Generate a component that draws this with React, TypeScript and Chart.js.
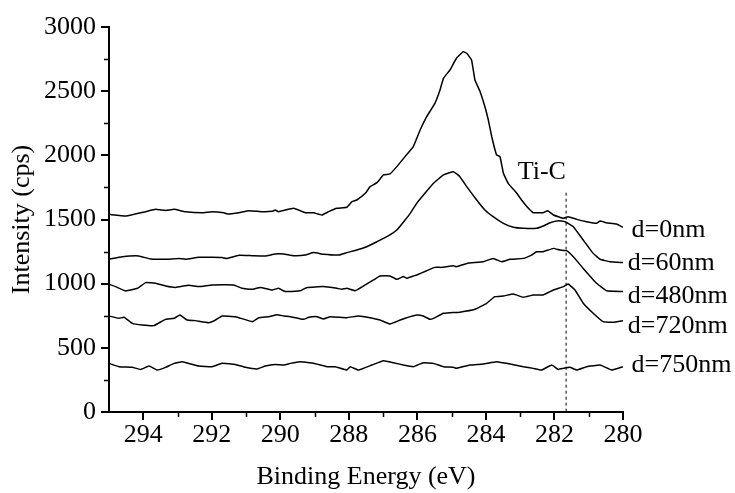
import React, { useEffect, useRef } from 'react';
import { Chart, registerables } from 'chart.js';

Chart.register(...registerables);

const FONT = '"Liberation Serif", "Times New Roman", Times, serif';

// ---- data (binding energy in eV, intensity in cps) ----
const energyD0 = [295, 294.5, 293.93, 293.64, 293.35, 293.1, 292.77, 292.28, 291.99, 291.65, 291.55, 291.21, 290.92, 290.53, 290.24, 290.15, 290.05,
  289.61, 289.27, 289.03, 288.79, 288.59, 288.35, 288.06, 287.91, 287.77, 287.52, 287.38, 287.18, 286.99, 286.8, 286.6, 286.36, 286.12, 285.92, 285.73, 285.49, 285.34, 285.24, 285.05,
  284.86, 284.66, 284.56, 284.42, 284.32, 284.17, 284.03, 283.93, 283.83, 283.69, 283.59, 283.49, 283.35, 283.1, 282.96, 282.76, 282.62, 282.33, 282.2, 282.03, 281.74, 281.6, 281.35, 281.06, 280.77, 280.67, 280.48, 280.19, 280.0];
const intensityD0 = [1540, 1527, 1561, 1579, 1571, 1579, 1561, 1553, 1561, 1553, 1543, 1553, 1569, 1561, 1564, 1574, 1561,
  1587, 1553, 1553, 1535, 1561, 1587, 1595, 1639, 1652, 1704, 1756, 1787, 1847, 1855, 1912, 1990, 2068, 2197, 2301, 2405, 2509, 2600, 2665,
  2756, 2808, 2795, 2743, 2587, 2496, 2379, 2275, 2145, 2003, 1990, 1860, 1782, 1704, 1652, 1587, 1553, 1553, 1569, 1535, 1509, 1522, 1501, 1483, 1470, 1488, 1475, 1465, 1439];

const energyD60 = [295, 294.61, 294.13, 293.79, 293.35, 292.96, 292.77, 292.38, 291.99, 291.7, 291.55, 291.21, 290.82, 290.44, 290.15, 289.9,
  289.61, 289.27, 289.03, 288.74, 288.3, 288.06, 287.77, 287.48, 287.18, 286.89, 286.6, 286.36, 286.21, 286.02, 285.78, 285.53, 285.24, 284.95,
  284.76, 284.56, 284.27, 284.03, 283.79, 283.49, 283.2, 282.91, 282.52, 282.33, 282.13, 281.89, 281.69, 281.45, 281.16, 280.87, 280.67, 280.38, 280.0];
const intensityD60 = [1192, 1210, 1216, 1192, 1190, 1197, 1190, 1205, 1205, 1203, 1197, 1221, 1218, 1216, 1231, 1231,
  1218, 1223, 1242, 1229, 1223, 1242, 1262, 1288, 1327, 1366, 1418, 1496, 1548, 1626, 1704, 1782, 1847, 1873,
  1834, 1756, 1652, 1574, 1522, 1470, 1439, 1431, 1431, 1449, 1475, 1491, 1483, 1444, 1340, 1236, 1190, 1171, 1164];

const energyD480 = [295, 294.81, 294.51, 294.17, 293.93, 293.64, 293.35, 293.06, 292.67, 292.38, 291.99, 291.36, 291.12, 290.83, 290.58, 290.24, 290.05, 289.9,
  289.81, 289.42, 289.22, 288.74, 288.35, 288.2, 288.06, 287.82, 287.57, 287.28, 287.09, 286.8, 286.6, 286.41, 286.31, 286.12, 286.02, 285.73, 285.49, 285.29, 284.95,
  284.86, 284.56, 284.08, 283.79, 283.54, 283.3, 282.91, 282.67, 282.52, 282.33, 282.03, 281.84, 281.65, 281.45, 281.16, 280.77, 280.48, 280.0];
const intensityD480 = [995, 977, 943, 964, 1008, 1003, 982, 971, 987, 977, 990, 990, 964, 956, 971, 951, 964, 943,
  938, 945, 971, 977, 964, 956, 964, 945, 982, 1029, 1060, 1060, 1034, 1055, 1042, 1060, 1068, 1101, 1127, 1127, 1140,
  1132, 1158, 1171, 1197, 1171, 1190, 1197, 1223, 1249, 1249, 1275, 1262, 1257, 1210, 1119, 1003, 945, 938];

const energyD720 = [295, 294.71, 294.56, 294.32, 294.03, 293.69, 293.35, 293.1, 292.93, 292.72, 292.48, 292.09, 291.89, 291.7, 291.31, 290.82, 290.63, 290.34, 290.1, 289.9,
  289.71, 289.32, 289.17, 288.93, 288.74, 288.54, 288.06, 287.72, 287.38, 287.09, 286.8, 286.5, 286.21, 286.02, 285.83, 285.63, 285.53, 285.24, 285.05, 284.76,
  284.32, 283.98, 283.74, 283.49, 283.2, 282.91, 282.62, 282.33, 282.03, 281.74, 281.6, 281.4, 281.16, 280.87, 280.58, 280.28, 280.0];
const intensityD720 = [748, 730, 738, 691, 678, 673, 722, 730, 756, 717, 712, 696, 717, 748, 743, 704, 735, 743, 758, 748,
  743, 722, 738, 743, 725, 743, 735, 748, 735, 717, 686, 717, 743, 756, 748, 722, 730, 769, 774, 778,
  800, 847, 899, 904, 919, 894, 912, 912, 951, 977, 997, 951, 847, 769, 704, 699, 712];

const energyD750 = [295, 294.71, 294.32, 294.08, 293.83, 293.59, 293.35, 293.1, 292.86, 292.62, 292.38, 291.99, 291.7, 291.31, 291.02, 290.68, 290.44, 290.15, 289.9,
  289.71, 289.42, 289.03, 288.64, 288.4, 288.06, 287.96, 287.72, 287.33, 286.99, 286.7, 286.41, 286.12, 285.83, 285.53, 285.24, 284.95,
  284.86, 284.47, 284.08, 283.69, 283.4, 282.91, 282.62, 282.38, 282.08, 281.89, 281.74, 281.55, 281.35, 281.06, 280.67, 280.33, 280.0];
const intensityD750 = [379, 353, 348, 332, 358, 327, 348, 379, 392, 374, 358, 353, 379, 371, 348, 335, 358, 371, 366,
  379, 392, 379, 353, 353, 327, 353, 327, 366, 400, 384, 366, 353, 384, 379, 353, 348,
  340, 366, 374, 392, 379, 353, 340, 327, 366, 332, 340, 348, 327, 353, 366, 327, 353];

const seriesNames = ['d=0nm', 'd=60nm', 'd=480nm', 'd=720nm', 'd=750nm'];
const seriesEnergies = [energyD0, energyD60, energyD480, energyD720, energyD750];
const seriesIntensities = [intensityD0, intensityD60, intensityD480, intensityD720, intensityD750];

// series name labels, anchored in data coordinates (left edge, vertical middle)
const nameLabelEnergy = [279.75, 279.86, 279.86, 279.86, 279.75];
const nameLabelIntensity = [1413, 1162, 902, 669, 365];

// Ti-C marker
const tiCEnergy = 281.66;
const tiCLineTop = 1709;
const tiCText = 'Ti-C';
const tiCTextEnergy = 282.37;
const tiCTextIntensity = 1871;

const xMinorTicks = [281, 283, 285, 287, 289, 291, 293];
const yMinorTicks = [250, 750, 1250, 1750, 2250, 2750];

const xTitle = 'Binding Energy (eV)';
const yTitle = 'Intensity (cps)';

const extrasPlugin = {
  id: 'extras',
  afterDraw(chart: any) {
    const { ctx, scales } = chart;
    const xs = scales.x;
    const ys = scales.y;
    const area = chart.chartArea;
    ctx.save();
    // minor ticks
    ctx.strokeStyle = '#000';
    ctx.lineWidth = 1.5;
    ctx.beginPath();
    xMinorTicks.forEach((v) => {
      const px = Math.round(xs.getPixelForValue(v)) + 0.5;
      ctx.moveTo(px, area.bottom);
      ctx.lineTo(px, area.bottom + 5);
    });
    yMinorTicks.forEach((v) => {
      const py = Math.round(ys.getPixelForValue(v)) + 0.5;
      ctx.moveTo(area.left, py);
      ctx.lineTo(area.left - 5, py);
    });
    ctx.stroke();
    // texts
    ctx.fillStyle = '#000';
    ctx.font = `26px ${FONT}`;
    ctx.textBaseline = 'middle';
    ctx.textAlign = 'center';
    ctx.fillText(tiCText, xs.getPixelForValue(tiCTextEnergy), ys.getPixelForValue(tiCTextIntensity));
    ctx.textAlign = 'left';
    seriesNames.forEach((name, i) => {
      ctx.fillText(name, xs.getPixelForValue(nameLabelEnergy[i]), ys.getPixelForValue(nameLabelIntensity[i]));
    });
    ctx.restore();
  },
};

export default function App() {
  const canvasRef = useRef<HTMLCanvasElement | null>(null);

  useEffect(() => {
    if (!canvasRef.current) return;
    const datasets: any[] = seriesNames.map((name, i) => ({
      label: name,
      data: seriesEnergies[i].map((e, j) => ({ x: e, y: seriesIntensities[i][j] })),
      borderColor: '#000',
      borderWidth: 1.5,
      pointRadius: 0,
      tension: 0.1,
      fill: false,
    }));
    datasets.push({
      label: 'Ti-C',
      data: [{ x: tiCEnergy, y: tiCLineTop }, { x: tiCEnergy, y: 0 }],
      borderColor: '#000',
      borderWidth: 1,
      borderDash: [3, 3],
      pointRadius: 0,
      fill: false,
    });

    const chart = new Chart(canvasRef.current, {
      type: 'line',
      data: { datasets },
      plugins: [extrasPlugin],
      options: {
        animation: false,
        responsive: false,
        devicePixelRatio: 1,
        layout: { padding: { left: 0, top: 27, right: 112, bottom: 0 } },
        plugins: { legend: { display: false }, tooltip: { enabled: false } },
        scales: {
          x: {
            type: 'linear',
            reverse: true,
            min: 280,
            max: 295,
            afterFit: (s: any) => { s.height = 81; },
            border: { display: true, color: '#000', width: 2 },
            grid: { drawOnChartArea: false, drawTicks: true, tickLength: 8, color: '#000', lineWidth: 2 },
            ticks: { stepSize: 2, includeBounds: false, padding: 0, color: '#000', font: { family: FONT, size: 26 }, maxRotation: 0, callback: (v: any) => String(v) },
            title: { display: true, text: xTitle, color: '#000', font: { family: FONT, size: 26 }, padding: { top: 0, bottom: 0 } },
          },
          y: {
            type: 'linear',
            min: 0,
            max: 3000,
            afterFit: (s: any) => { s.width = 109; },
            border: { display: true, color: '#000', width: 2 },
            grid: { drawOnChartArea: false, drawTicks: true, tickLength: 8, color: '#000', lineWidth: 2 },
            ticks: { stepSize: 500, padding: 5, color: '#000', font: { family: FONT, size: 26 }, callback: (v: any) => String(v) },
            title: { display: true, text: yTitle, color: '#000', font: { family: FONT, size: 26 }, padding: { top: 7, bottom: 0 } },
          },
        },
      },
    });
    return () => chart.destroy();
  }, []);

  return (
    <div style={{ position: 'absolute', left: 0, top: 0, width: 735, height: 493, background: '#fff' }}>
      <canvas ref={canvasRef} width={735} height={493} />
    </div>
  );
}
